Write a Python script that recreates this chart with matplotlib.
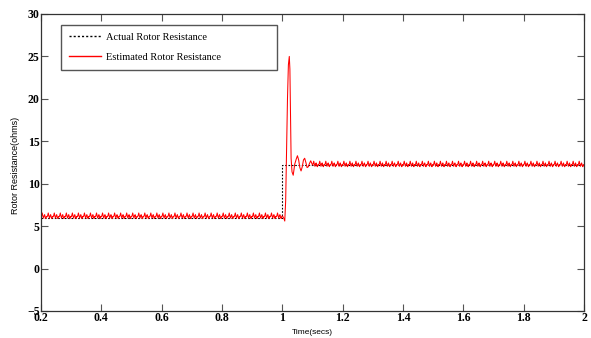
import matplotlib
matplotlib.use("Agg")
import matplotlib.pyplot as plt
import numpy as np

# levels
actual_t = [0.2, 1.0, 1.0, 2.0]
actual_r = [6.0, 6.0, 12.2, 12.2]

low_level = 6.1
high_level = 12.2
# one ripple period (0.02 s, 10 samples)
ripple = [0.0, 0.15, 0.45, 0.1, -0.15, 0.1, 0.25, -0.05, -0.2, 0.05]
period = 0.02

# transient after the step
trans_t = [1.000, 1.004, 1.008, 1.011, 1.014, 1.017, 1.020, 1.023, 1.025, 1.027,
           1.029, 1.032, 1.036, 1.041, 1.046, 1.050, 1.054, 1.058, 1.062, 1.066,
           1.070, 1.074, 1.078, 1.082, 1.086, 1.090, 1.094]
trans_r = [6.2, 6.0, 5.6, 8.0, 14.0, 20.0, 24.0, 25.0, 23.5, 18.0,
           13.0, 11.4, 11.0, 12.3, 12.9, 13.3, 12.8, 11.9, 11.5, 12.0,
           12.8, 13.0, 12.5, 11.9, 12.0, 12.4, 12.7]

dt = period / len(ripple)
t1 = np.arange(0.2, 1.0, dt)
r1 = low_level + np.resize(ripple, len(t1))
t2 = np.arange(1.1, 2.0 + dt / 2, dt)
r2 = high_level + np.resize(ripple, len(t2))
est_t = np.concatenate([t1, trans_t, t2])
est_r = np.concatenate([r1, trans_r, r2])

fig = plt.figure(figsize=(5.91, 3.38), dpi=100)
ax = fig.add_axes([0.0694, 0.0799, 0.9188, 0.8787])

ax.plot(actual_t, actual_r, color='black', linestyle=(0, (1.5, 1.5)), lw=0.8,
        label='Actual Rotor Resistance')
ax.plot(est_t, est_r, color='#ff0000', lw=0.75, label='Estimated Rotor Resistance')

ax.set_xlim(0.2, 2)
ax.set_ylim(-5, 30)
xt = [0.2, 0.4, 0.6, 0.8, 1.0, 1.2, 1.4, 1.6, 1.8, 2.0]
ax.set_xticks(xt)
ax.set_xticklabels(['0.2', '0.4', '0.6', '0.8', '1', '1.2', '1.4', '1.6', '1.8', '2'])
ax.set_yticks(range(-5, 31, 5))
ax.tick_params(direction='in', top=True, right=True, length=5, width=0.8,
               color='#555555', labelsize=8.5, pad=1)
for lab in ax.get_xticklabels() + ax.get_yticklabels():
    lab.set_family('Liberation Serif')
    lab.set_fontweight('bold')
for s in ax.spines.values():
    s.set_color('#333333')
    s.set_linewidth(0.9)

ax.set_xlabel('Time(secs)', fontsize=6, family='Liberation Sans', labelpad=3)
ax.set_ylabel('Rotor Resistance(ohms)', fontsize=6.5, family='Liberation Sans', labelpad=2)
ax.yaxis.set_label_coords(-0.038, 0.49)

leg = ax.legend(loc='upper left', bbox_to_anchor=(0.037, 0.963 - 0.148, 0.398, 0.148),
                mode='expand', fancybox=False, framealpha=1, handlelength=3.1,
                handletextpad=0.5, labelspacing=1.0, borderpad=0.75, borderaxespad=0,
                prop={'family': 'Liberation Serif', 'size': 7.5})
leg.get_frame().set_edgecolor('#555555')
leg.get_frame().set_linewidth(1.0)
for h in leg.get_lines():
    h.set_linewidth(1.0)

fig.savefig('out.png', dpi=100)
